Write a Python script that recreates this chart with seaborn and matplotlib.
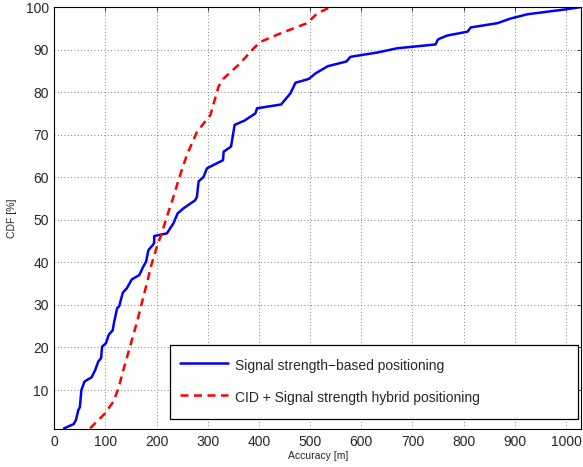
import matplotlib
matplotlib.use("Agg")
import matplotlib.pyplot as plt
import seaborn as sns
import pandas as pd

# Signal strength-based positioning (accuracy [m], CDF [%])
ss_acc = [19, 38, 42.5, 47, 50, 53, 59, 73, 80, 86, 91.5, 93.4, 101, 106.5, 114, 117,
          123, 126.6, 134, 141.7, 151.5, 166, 174, 179.5, 184, 192, 195, 195.5, 220,
          226.5, 233, 241, 252.6, 275.5, 278.8, 282, 291.8, 298.4, 329.7, 331, 345.4,
          352.5, 371.5, 393, 396.3, 443.3, 461.5, 471.3, 497.4, 510.5, 534.6, 571,
          579, 631, 670, 745, 750, 768, 807.5, 814, 866, 892, 925, 996.7, 1030]
ss_cdf = [1.0, 2, 3, 5.3, 6, 10, 12, 13, 14.7, 16.7, 17.5, 20.2, 21, 23, 24, 26,
          29.3, 29.6, 32.9, 33.9, 36, 37, 39, 40.2, 42.9, 44, 44.5, 46.2, 46.8,
          48, 49.2, 51.5, 52.7, 54.6, 55.4, 59, 60.1, 62.1, 64, 66, 67.2,
          72.3, 73.3, 75, 76.2, 77.1, 79.7, 82.2, 83.1, 84.4, 86.1, 87.2,
          88.3, 89.3, 90.3, 91.2, 92.4, 93.3, 94.2, 95.2, 96.2, 97.3, 98.3, 99.4, 100]

# CID + Signal strength hybrid positioning
hy_acc = [70, 99, 115.6, 125.4, 135, 148, 161, 171, 181, 190.7, 200.5, 210, 220, 231,
          243, 259, 279, 305, 321, 331, 363.6, 389.7, 402.8, 442, 494, 514, 540]
hy_cdf = [1, 4.5, 7.3, 10.4, 14.7, 20.2, 25.7, 30.4, 35.1, 39.8, 43.7, 46.8, 50.7, 54.7,
          59.4, 65.2, 70.7, 74.6, 81.3, 83.2, 86.8, 90.3, 91.8, 93.8, 96.2, 98.5, 100]

labels = ["Signal strength\u2212based positioning",
          "CID + Signal strength hybrid positioning"]

x_ticks = list(range(0, 1001, 100))
y_ticks = list(range(10, 101, 10))

sns.set_style("white")
plt.rcParams['font.family'] = ['Liberation Sans', 'DejaVu Sans']

fig = plt.figure(figsize=(5.83, 4.67), dpi=100)
ax = fig.add_axes([0.0931, 0.0814, 0.904, 0.9036])

df1 = pd.DataFrame({"acc": ss_acc, "cdf": ss_cdf})
df2 = pd.DataFrame({"acc": hy_acc, "cdf": hy_cdf})
sns.lineplot(data=df1, x="acc", y="cdf", ax=ax, color="#0000ff", lw=1.8,
             sort=False, estimator=None, label=labels[0])
sns.lineplot(data=df2, x="acc", y="cdf", ax=ax, color="#ff0000", lw=1.8,
             sort=False, estimator=None, label=labels[1])
ax.lines[1].set_linestyle((0, (3.2, 2.2)))

ax.set_xlim(0, 1030)
ax.set_ylim(0.85, 100)
ax.set_xticks(x_ticks)
ax.set_yticks(y_ticks)
ax.tick_params(direction="in", length=3, labelsize=10, width=0.6, top=True, right=True,
               pad=4)
ax.grid(True, linestyle=(0, (1, 3)), color="#555555", lw=0.6)
for s in ax.spines.values():
    s.set_color("black")
    s.set_linewidth(0.8)
ax.set_xlabel("Accuracy [m]", fontsize=7.5, labelpad=2)
ax.set_ylabel("CDF [%]", fontsize=7.5, labelpad=6)

leg = ax.legend(loc="lower left", bbox_to_anchor=(0.2196, 0.0237, 0.774, 0.18),
                mode="expand", fontsize=10, handlelength=3.45, handleheight=1.95,
                labelspacing=0.8, borderpad=0.75, fancybox=False, edgecolor="black",
                framealpha=1, borderaxespad=0, handletextpad=0.45)
leg.get_frame().set_linewidth(0.9)
leg.get_lines()[1].set_linestyle((0, (3.2, 2.2)))

fig.savefig("out.png", dpi=100)
